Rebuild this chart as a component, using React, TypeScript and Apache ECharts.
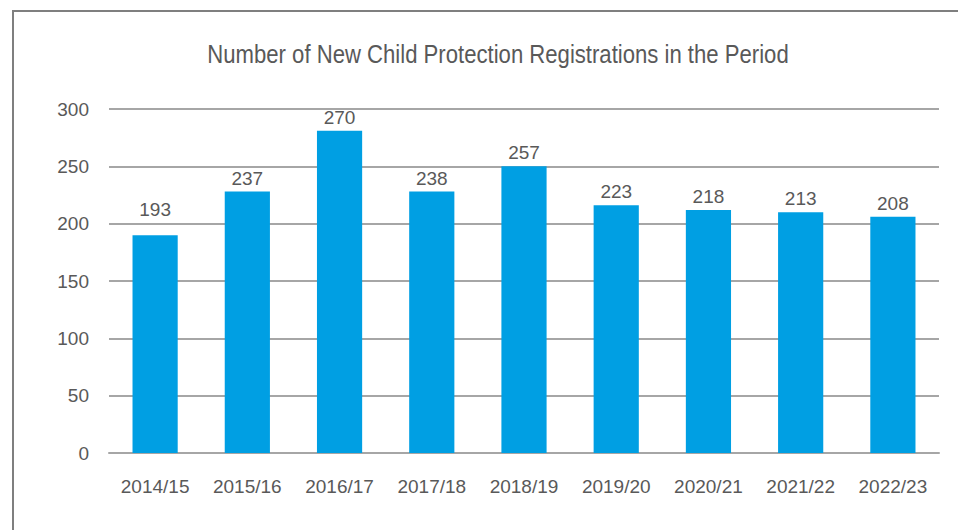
import React, { useEffect, useRef } from "react";
import * as echarts from "echarts";

const categories = ["2014/15", "2015/16", "2016/17", "2017/18", "2018/19", "2019/20", "2020/21", "2021/22", "2022/23"];
// bar heights as drawn in the picture
const barValues = [190, 228, 281, 228, 250, 216, 212, 210, 206];
// value labels as printed above the bars
const labelValues = [193, 237, 270, 238, 257, 223, 218, 213, 208];
const yTicks = { min: 0, max: 300, interval: 50 };
const titleText = "Number of New Child Protection Registrations in the Period";

const FONT = "'Liberation Sans', Arial, sans-serif";
const TEXT = "#595959";
const GRID = "#a6a6a6";

export default function App() {
  const ref = useRef<HTMLDivElement>(null);
  useEffect(() => {
    document.body.style.margin = "0";
    if (!ref.current) return;
    const chart = echarts.init(ref.current, undefined, { renderer: "svg" });
    chart.setOption({
      animation: false,
      backgroundColor: "#ffffff",
      graphic: [
        {
          type: "rect",
          shape: { x: 13, y: 11, width: 1100, height: 700 },
          style: { fill: "none", stroke: "#7f7f7f", lineWidth: 2 },
          silent: true,
        },
        {
          type: "text",
          x: 498,
          y: 55,
          scaleX: 0.885,
          silent: true,
          style: {
            text: titleText,
            x: 0,
            y: 0,
            align: "center",
            verticalAlign: "middle",
            fontFamily: FONT,
            fontSize: 25,
            fill: TEXT,
          },
        },
      ],
      grid: { left: 109, right: 19, top: 109, bottom: 77 },
      xAxis: {
        type: "category",
        data: categories,
        axisLine: { show: true, lineStyle: { color: GRID, width: 2 } },
        axisTick: { show: false },
        axisLabel: { fontFamily: FONT, fontSize: 19, color: TEXT, margin: 24, interval: 0 },
      },
      yAxis: {
        type: "value",
        min: yTicks.min,
        max: yTicks.max,
        interval: yTicks.interval,
        axisLine: { show: false },
        axisTick: { show: false },
        splitLine: { lineStyle: { color: GRID, width: 2 } },
        axisLabel: { fontFamily: FONT, fontSize: 19, color: TEXT, margin: 20 },
      },
      series: [
        {
          type: "bar",
          data: barValues.map((v, i) =>
            i === 0 ? { value: v, label: { distance: 16 } } : { value: v }
          ),
          barWidth: "49%",
          itemStyle: { color: "#009fe3" },
          label: {
            show: true,
            position: "top",
            distance: 4,
            fontFamily: FONT,
            fontSize: 19,
            color: TEXT,
            formatter: (p: any) => String(labelValues[p.dataIndex]),
          },
        },
      ],
    });
    return () => chart.dispose();
  }, []);
  return <div ref={ref} style={{ width: 958, height: 530 }} />;
}
